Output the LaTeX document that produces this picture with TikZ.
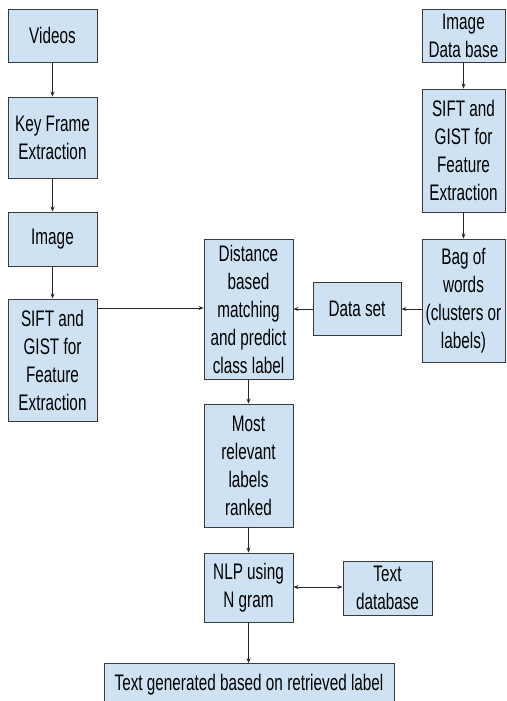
\documentclass[tikz,border=0pt]{standalone}
\usepackage{fontspec}
\setmainfont{Liberation Sans}[FakeStretch=0.68]
\usetikzlibrary{arrows.meta}
\definecolor{boxblue}{HTML}{CFE2F3}
\definecolor{boxline}{HTML}{3A3A3A}
\tikzset{
  stepbox/.style={draw=boxline, line width=0.9pt, fill=boxblue, inner sep=0pt, align=center,
    font=\fontsize{22.5}{28}\selectfont},
  conn/.style={draw=black!85, line width=0.8pt, -{Stealth[length=5pt,width=4pt]}},
  conn2/.style={draw=black!85, line width=0.8pt, {Stealth[length=5pt,width=4pt]}-{Stealth[length=5pt,width=4pt]}}
}
\begin{document}
\begin{tikzpicture}[x=1pt,y=-1pt]
\useasboundingbox (0,0) rectangle (506,701);
\clip (0,0) rectangle (506,701);
% left column
\node[stepbox, minimum width=89pt, minimum height=53pt] (videos) at (52.5,35.5) {Videos};
\node[stepbox, minimum width=89pt, minimum height=81pt] (kf) at (52.5,137.5) {Key Frame\\Extraction};
\node[stepbox, minimum width=89pt, minimum height=54pt] (img) at (52.5,239) {Image};
\node[stepbox, minimum width=89pt, minimum height=122pt] (siftl) at (52.5,360) {SIFT and\\GIST for\\Feature\\Extraction};
% right column
\node[stepbox, minimum width=83pt, minimum height=53pt] (imgdb) at (463.5,35.5) {Image\\Data base};
\node[stepbox, minimum width=83pt, minimum height=123pt] (siftr) at (463.5,150.5) {SIFT and\\GIST for\\Feature\\Extraction};
\node[stepbox, minimum width=83pt, minimum height=123pt] (bag) at (463.5,300.5) {Bag of\\words\\(clusters or\\labels)};
% middle
\node[stepbox, minimum width=89pt, minimum height=140pt] (dist) at (248.5,309) {Distance\\based\\matching\\and predict\\class label};
\node[stepbox, minimum width=88pt, minimum height=53pt] (data) at (357,308.5) {Data set};
\node[stepbox, minimum width=89pt, minimum height=123pt] (most) at (248.5,465.5) {Most\\relevant\\labels\\ranked};
\node[stepbox, minimum width=89pt, minimum height=69pt] (nlp) at (248.5,587.5) {NLP using\\N gram};
\node[stepbox, minimum width=89pt, minimum height=54pt] (tdb) at (387.5,588) {Text\\database};
\node[stepbox, anchor=north, minimum width=290pt, inner ysep=10pt, text height=17pt, text depth=40pt] (gen) at (249,663) {Text generated based on retrieved label};
% connectors
\draw[conn] (videos) -- (kf);
\draw[conn] (kf) -- (img);
\draw[conn] (img) -- (siftl);
\draw[conn] (siftl.east |- 0,308) -- (dist.west |- 0,308);
\draw[conn] (imgdb) -- (siftr);
\draw[conn] (siftr) -- (bag);
\draw[conn] (bag.west |- 0,309) -- (data.east |- 0,309);
\draw[conn] (data.west |- 0,309) -- (dist.east |- 0,309);
\draw[conn] (dist) -- (most);
\draw[conn] (most) -- (nlp);
\draw[conn2] (nlp.east |- 0,587) -- (tdb.west |- 0,587);
\draw[conn] (nlp.south) -- (nlp.south |- gen.north);
\end{tikzpicture}
\end{document}
